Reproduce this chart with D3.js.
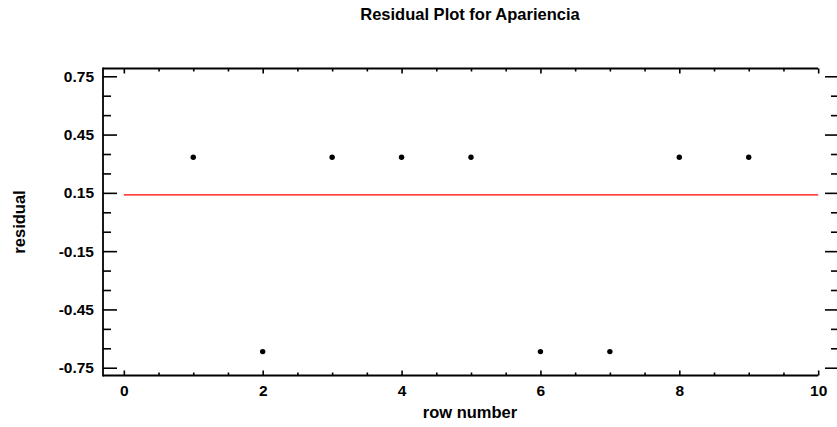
<!DOCTYPE html>
<html>
<head>
<meta charset="utf-8">
<script src="https://cdn.jsdelivr.net/npm/d3@7"></script>
<style>
  html, body { margin: 0; padding: 0; background: #fff; overflow: hidden; }
  svg { display: block; font-family: "Liberation Sans", Arial, sans-serif; }
</style>
</head>
<body>
<svg id="chart" width="837" height="427"></svg>
<script>
// Residuals by row number
const rowNumbers = [1, 2, 3, 4, 5, 6, 7, 8, 9];
const residuals = [0.333, -0.667, 0.333, 0.333, 0.333, -0.667, -0.667, 0.333, 0.333];
const referenceLevel = 0.14;

const xMajorTicks = [0, 2, 4, 6, 8, 10];
const xMinorTicks = [0.5, 1, 1.5, 2.5, 3, 3.5, 4.5, 5, 5.5, 6.5, 7, 7.5, 8.5, 9, 9.5];
const yMajorTicks = [0.75, 0.45, 0.15, -0.15, -0.45, -0.75];
const yMinorTicks = [0.65, 0.55, 0.35, 0.25, 0.05, -0.05, -0.25, -0.35, -0.55, -0.65];

const titleText = "Residual Plot for Apariencia";
const xLabel = "row number";
const yLabel = "residual";

const svg = d3.select("#chart");
const plotLeft = 103, plotRight = 839, plotTop = 68.5, plotBottom = 375.5;

const x = d3.scaleLinear().domain([-0.3, 10.3]).range([plotLeft, plotRight]);
const y = d3.scaleLinear().domain([-0.79, 0.79]).range([plotBottom, plotTop]);

const axisColor = "#000";
const tickFont = "bold 15.5px 'Liberation Sans', Arial, sans-serif";
// plain hyphen for negative numbers
const yFormat = d => d.toFixed(2);

function styleAxis(g) {
  g.selectAll(".domain").remove();
  g.selectAll(".tick line").attr("stroke", axisColor).attr("stroke-width", 1.6);
  g.selectAll(".tick text").style("font", tickFont).attr("fill", "#000");
}

// bottom axis: major + minor ticks pointing inward
svg.append("g").attr("transform", `translate(0,${plotBottom})`)
  .call(d3.axisBottom(x).tickValues(xMajorTicks).tickSizeInner(-5).tickSizeOuter(0).tickPadding(9).tickFormat(d => String(d)))
  .call(styleAxis);
svg.append("g").attr("transform", `translate(0,${plotBottom})`)
  .call(d3.axisBottom(x).tickValues(xMinorTicks).tickSizeInner(-3).tickSizeOuter(0).tickFormat(""))
  .call(styleAxis);

// top axis
svg.append("g").attr("transform", `translate(0,${plotTop})`)
  .call(d3.axisTop(x).tickValues(xMajorTicks).tickSizeInner(-5).tickSizeOuter(0).tickFormat(""))
  .call(styleAxis);
svg.append("g").attr("transform", `translate(0,${plotTop})`)
  .call(d3.axisTop(x).tickValues(xMinorTicks).tickSizeInner(-3).tickSizeOuter(0).tickFormat(""))
  .call(styleAxis);

// left axis
svg.append("g").attr("transform", `translate(${plotLeft},0)`)
  .call(d3.axisLeft(y).tickValues(yMajorTicks).tickSizeInner(-14).tickSizeOuter(0).tickPadding(9).tickFormat(yFormat))
  .call(styleAxis);
svg.append("g").attr("transform", `translate(${plotLeft},0)`)
  .call(d3.axisLeft(y).tickValues(yMinorTicks).tickSizeInner(-8).tickSizeOuter(0).tickFormat(""))
  .call(styleAxis);

// right axis (ticks only)
svg.append("g").attr("transform", `translate(${plotRight},0)`)
  .call(d3.axisRight(y).tickValues(yMajorTicks).tickSizeInner(-14).tickSizeOuter(0).tickFormat(""))
  .call(styleAxis);
svg.append("g").attr("transform", `translate(${plotRight},0)`)
  .call(d3.axisRight(y).tickValues(yMinorTicks).tickSizeInner(-8).tickSizeOuter(0).tickFormat(""))
  .call(styleAxis);

// frame lines
const frame = svg.append("g").attr("stroke", axisColor).attr("stroke-width", 1.8);
frame.append("line").attr("x1", plotLeft).attr("x2", x(10)).attr("y1", plotTop).attr("y2", plotTop);
frame.append("line").attr("x1", plotLeft).attr("x2", x(10)).attr("y1", plotBottom).attr("y2", plotBottom);
frame.append("line").attr("x1", plotLeft).attr("x2", plotLeft).attr("y1", plotTop - 0.9).attr("y2", plotBottom + 0.9);

// reference line
svg.append("line")
  .attr("x1", x(0)).attr("x2", x(10))
  .attr("y1", y(referenceLevel)).attr("y2", y(referenceLevel))
  .attr("stroke", "#ff0000").attr("stroke-width", 1.2);

// residual points
svg.append("g").selectAll("circle")
  .data(rowNumbers.map((r, i) => ({ r, v: residuals[i] })))
  .join("circle")
  .attr("cx", d => x(d.r))
  .attr("cy", d => y(d.v))
  .attr("r", 2.7)
  .attr("fill", "#000");

// title and axis labels
svg.append("text")
  .attr("x", (plotLeft + plotRight) / 2 - 1).attr("y", 20)
  .attr("text-anchor", "middle")
  .style("font", "bold 16.5px 'Liberation Sans', Arial, sans-serif")
  .text(titleText);

svg.append("text")
  .attr("x", 470).attr("y", 418)
  .attr("text-anchor", "middle")
  .style("font", "bold 16.5px 'Liberation Sans', Arial, sans-serif")
  .text(xLabel);

svg.append("text")
  .attr("transform", `translate(25,${(plotTop + plotBottom) / 2}) rotate(-90)`)
  .attr("text-anchor", "middle")
  .style("font", "bold 16.5px 'Liberation Sans', Arial, sans-serif")
  .text(yLabel);
</script>
</body>
</html>
